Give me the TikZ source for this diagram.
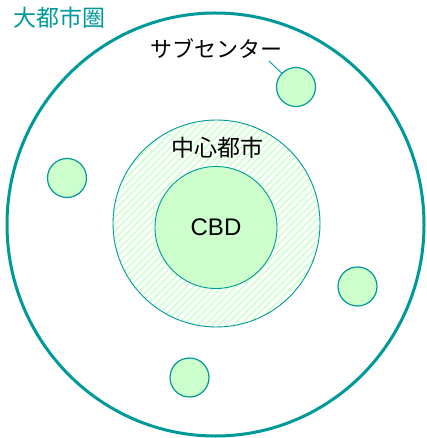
\documentclass[tikz,border=0pt]{standalone}
\usepackage{fontspec}
\setmainfont{Liberation Sans}
\newfontfamily\jp{Noto Sans CJK JP}
\usetikzlibrary{shapes.geometric,patterns.meta}
\definecolor{teal1}{RGB}{0,153,153}
\definecolor{lgreen}{RGB}{204,255,204}
\begin{document}
\begin{tikzpicture}[x=1pt,y=-1pt,
  sub/.style={circle,draw=teal1,line width=1.2pt,fill=lgreen,minimum size=39pt,inner sep=0pt},
  lbl/.style={font=\jp\fontsize{22}{24}\selectfont,inner sep=0pt}]
\useasboundingbox (0,0) rectangle (426,438);
\node[ellipse,draw=teal1,line width=3pt,minimum width=417pt,minimum height=423pt,inner sep=0pt] (outer) at (215.5,224.5) {};
\node[circle,draw=teal1,line width=0.9pt,minimum size=207pt,inner sep=0pt,
  pattern={Lines[angle=45,distance=5pt,line width=1.6pt]},pattern color=lgreen] (city) at (216.5,223.5) {};
\node[circle,draw=teal1,line width=0.9pt,fill=lgreen,minimum size=122pt,inner sep=0pt,
  font=\fontsize{24}{26}\selectfont] (cbd) at (216,227.5) {CBD};
\node[sub] (s1) at (296,87) {};
\node[sub] (s2) at (67,178) {};
\node[sub] (s3) at (357.5,286.5) {};
\node[sub] (s4) at (189.5,377.5) {};
\node[lbl,text=teal1,font=\jp\fontsize{23}{25}\selectfont] (title) at (59,18) {大都市圏};
\node[lbl] (sublbl) at (216,49) {サブセンター};
\node[lbl,font=\jp\fontsize{23}{25}\selectfont] (citylbl) at (217,148) {中心都市};
\coordinate (lead) at (269,61);
\draw[teal1,line width=0.9pt] (lead) -- (s1);
\end{tikzpicture}
\end{document}
